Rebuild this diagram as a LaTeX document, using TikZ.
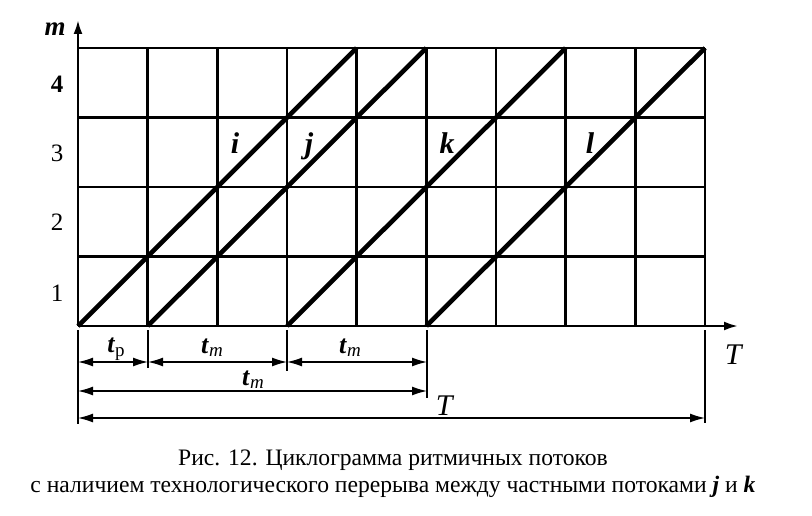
\documentclass[tikz,border=0pt]{standalone}
\usepackage{fontspec}
\setmainfont{Liberation Serif}
\newfontfamily\capfont{Liberation Serif}
\usetikzlibrary{arrows.meta}
\newcommand{\tmlabel}{\textbf{\textit{t}}\raisebox{-3pt}{\fontsize{19}{19}\selectfont\textit{m}}}
\tikzset{
  gridline/.style={line width=2.4pt},
  axisline/.style={line width=2.4pt,-{Latex[length=14pt,width=9pt]}},
  flow/.style={line width=4.6pt},
  extline/.style={line width=1.4pt},
  dimline/.style={line width=1.4pt,{Latex[length=15pt,width=9pt]}-{Latex[length=15pt,width=9pt]}},
  lbl/.style={inner sep=0pt,anchor=base,font=\fontsize{30}{30}\selectfont},
  dimlbl/.style={inner sep=0pt,anchor=base,font=\fontsize{26}{28}\selectfont},
  num/.style={inner sep=0pt,anchor=base,font=\fontsize{25}{26}\selectfont},
  captext/.style={inner sep=0pt,anchor=base,font=\capfont\fontsize{23.6}{26}\selectfont}
}
\begin{document}
\begin{tikzpicture}[x=1pt,y=-1pt]
\useasboundingbox (0,0) rectangle (812,516);
\fill[white] (0,0) rectangle (812,516);
% grid coordinates
\foreach \i in {0,...,9}{
  \foreach \j in {0,...,4}{
    \coordinate (g\i\j) at ({78+69.67*\i},{326-69.5*\j});
  }
}
% grid
\foreach \i in {1,...,9}{ \draw[gridline] (g\i0) -- (g\i4); }
\foreach \j in {1,...,4}{ \draw[gridline] (g0\j) -- (g9\j); }
% axes
\coordinate (ytip) at (78,20);
\coordinate (xtip) at (738,326);
\draw[axisline] (g00) -- (ytip);
\draw[axisline] (g00) -- (xtip);
% flows
\draw[flow] (g00) -- (g44);
\draw[flow] (g10) -- (g54);
\draw[flow] (g30) -- (g74);
\draw[flow] (g50) -- (g94);
% flow labels
\node[lbl] (li) at (235,154) {\textbf{\textit{i}}};
\node[lbl] (lj) at (309,154) {\textbf{\textit{j}}};
\node[lbl] (lk) at (447,154) {\textbf{\textit{k}}};
\node[lbl] (ll) at (590,154) {\textbf{\textit{l}}};
% axis labels
\node[lbl,font=\fontsize{27}{28}\selectfont] (lm) at (55,36) {\textbf{\textit{m}}};
\node[num] (n4) at (57,93) {\textbf{4}};
\node[num] (n3) at (57,162) {3};
\node[num] (n2) at (57,231) {2};
\node[num] (n1) at (57,301) {1};
\node[lbl] (lT) at (734,364) {\textit{T}};
% extension lines
\coordinate (e0t) at (78,330);  \coordinate (e0b) at (78,424);
\coordinate (e1t) at (148,330); \coordinate (e1b) at (148,368);
\coordinate (e3t) at (287,330); \coordinate (e3b) at (287,371);
\coordinate (e5t) at (427,330); \coordinate (e5b) at (427,398);
\coordinate (e9t) at (705,330); \coordinate (e9b) at (705,423);
\draw[extline] (e0t) -- (e0b);
\draw[extline] (e1t) -- (e1b);
\draw[extline] (e3t) -- (e3b);
\draw[extline] (e5t) -- (e5b);
\draw[extline] (e9t) -- (e9b);
% dimension lines
\coordinate (a0) at (78,362);  \coordinate (a1) at (148,362);
\coordinate (a3) at (287,362); \coordinate (a5) at (427,362);
\coordinate (b0) at (78,391);  \coordinate (b5) at (427,391);
\coordinate (c0) at (78,418);  \coordinate (c9) at (705,418);
\draw[dimline] (a0) -- (a1);
\draw[dimline] (a1) -- (a3);
\draw[dimline] (a3) -- (a5);
\draw[dimline] (b0) -- (b5);
\draw[dimline] (c0) -- (c9);
\node[dimlbl] (tp) at (116,352) {\textbf{\textit{t}}\raisebox{-4pt}{\fontsize{19}{19}\selectfont р}};
\node[dimlbl] (tm1) at (212,353) {\tmlabel};
\node[dimlbl] (tm2) at (350,353) {\tmlabel};
\node[dimlbl] (tm3) at (253,385) {\tmlabel};
\node[lbl] (tT) at (445,415) {\textit{T}};
% caption
\node[captext] (cap1) at (393,465) {Рис. 12. Циклограмма ритмичных потоков};
\node[captext] (cap2) at (393,492) {с наличием технологического перерыва между частными потоками \textbf{\textit{j}} и \textbf{\textit{k}}};
\end{tikzpicture}
\end{document}
